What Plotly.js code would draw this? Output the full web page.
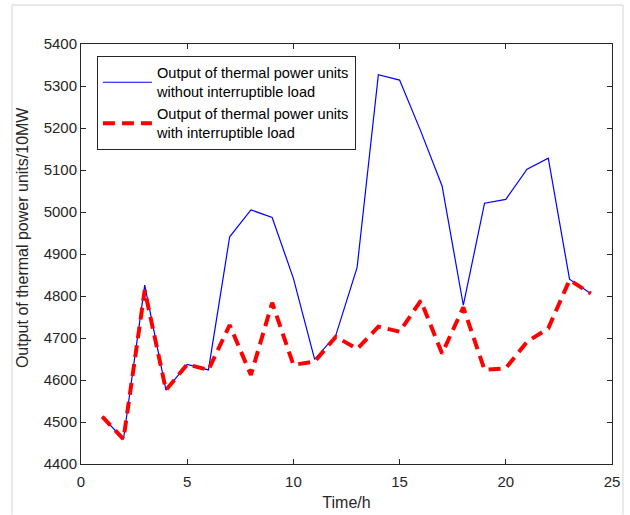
<!DOCTYPE html>
<html>
<head>
<meta charset="utf-8">
<script src="https://cdn.plot.ly/plotly-3.0.1.min.js"></script>
<style>html,body{margin:0;padding:0;background:#fff;}#chart{width:630px;height:515px;}</style>
</head>
<body>
<div id="chart"></div>
<script>
// Hours
const hours = [1,2,3,4,5,6,7,8,9,10,11,12,13,14,15,16,17,18,19,20,21,22,23,24];
// Output without interruptible load (10MW)
const withoutIL = [4513,4459,4826,4576,4637,4624,4941,5005,4987,4842,4649,4707,4868,5327,5314,5192,5062,4778,5021,5030,5102,5128,4840,4806];
// Output with interruptible load (10MW)
const withIL = [4513,4459,4814,4576,4637,4624,4731,4612,4784,4636,4644,4703,4674,4727,4715,4789,4663,4773,4624,4628,4691,4723,4838,4806];
const nameWithout = "Output of thermal power units<br>without interruptible load";
const nameWith = "Output of thermal power units<br>with interruptible load";
const xTicks = [0,5,10,15,20,25];
const yTicks = [4400,4500,4600,4700,4800,4900,5000,5100,5200,5300,5400];
const xTitle = "Time/h";
const yTitle = "Output of thermal power units/10MW";

const FONT = "Arial, 'Liberation Sans', sans-serif";
const AX = "#262626";

const traces = [
  {x: hours, y: withoutIL, name: nameWithout, type: "scatter", mode: "lines",
   line: {color: "#0000FF", width: 1.2}},
  {x: hours, y: withIL, name: nameWith, type: "scatter", mode: "lines",
   line: {color: "#FF0000", width: 4, dash: "12px,7px"}}
];

const axisCommon = {
  showgrid: false, zeroline: false, showline: true, linecolor: AX, linewidth: 1,
  mirror: "allticks", ticks: "inside", ticklen: 5, tickwidth: 1, tickcolor: AX,
  tickfont: {family: FONT, size: 15, color: AX}
};

const layout = {
  width: 630, height: 515,
  margin: {l: 81, r: 18, t: 44, b: 51},
  paper_bgcolor: "#fff", plot_bgcolor: "#fff",
  font: {family: FONT, color: AX},
  showlegend: true,
  legend: {
    x: 0.030, y: 0.972, xanchor: "left", yanchor: "top",
    bgcolor: "#fff", bordercolor: AX, borderwidth: 1,
    font: {family: FONT, size: 14.6, color: "#000"},
    itemwidth: 49, valign: "middle", tracegroupgap: 0
  },
  xaxis: Object.assign({}, axisCommon, {
    range: [0, 25], tickvals: xTicks, ticktext: xTicks.map(String),
    ticklabelstandoff: 4,
    title: {text: xTitle, font: {family: FONT, size: 16, color: AX}, standoff: 7}
  }),
  yaxis: Object.assign({}, axisCommon, {
    range: [4400, 5400], tickvals: yTicks, ticktext: yTicks.map(String)
  }),
  annotations: [{
    text: yTitle, textangle: -90, xref: "paper", yref: "paper",
    x: -0.111, y: 0.538, xanchor: "center", yanchor: "middle",
    showarrow: false, font: {family: FONT, size: 16, color: AX}
  }],
  shapes: [
    {type: "line", xref: "paper", yref: "paper", x0: -0.130, x1: -0.130, y0: -0.12, y1: 1.0929, line: {color: "#d4d4d4", width: 1}},
    {type: "line", xref: "paper", yref: "paper", x0: -0.130, x1: 1.0207, y0: 1.0929, y1: 1.0929, line: {color: "#d4d4d4", width: 1}},
    {type: "line", xref: "paper", yref: "paper", x0: 1.0207, x1: 1.0207, y0: -0.12, y1: 1.0929, line: {color: "#d4d4d4", width: 1}}
  ]
};

Plotly.newPlot("chart", traces, layout, {displayModeBar: false, staticPlot: true});
</script>
</body>
</html>
